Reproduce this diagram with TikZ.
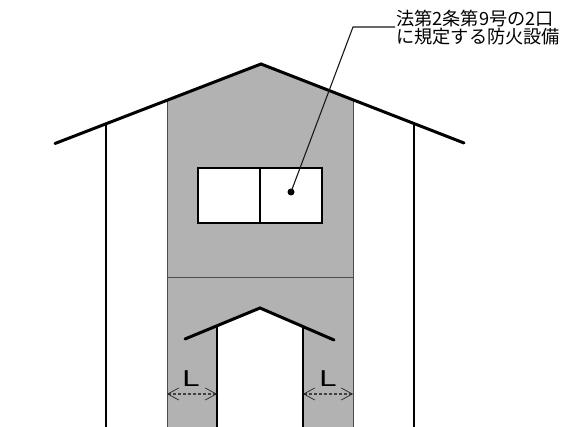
\documentclass[tikz,border=0pt]{standalone}
\usepackage{fontspec}
\newfontfamily\cjkfont{Noto Sans CJK JP}
\setmainfont{Liberation Sans}
\definecolor{wallgray}{RGB}{178,178,178}
\usetikzlibrary{arrows.meta}
\tikzset{
  roof line/.style={line width=3pt,black,line cap=round},
  wall line/.style={line width=2.6pt,black},
  thin line/.style={line width=1.3pt,black},
  frame line/.style={line width=2.2pt,black},
  edge line/.style={line width=0.9pt,black!70},
  dimline/.style={line width=1.1pt,black!75,densely dashed,{Straight Barb[length=11pt,width=12pt,line width=0.7pt,black!85]}-{Straight Barb[length=11pt,width=12pt,line width=0.7pt,black!85]}},
  dimlabel/.style={font=\fontsize{23}{23}\selectfont,inner sep=0pt,black,xscale=1.35},
  leadertext/.style={font=\cjkfont\fontsize{18.2}{18.8}\selectfont,inner sep=0pt,align=left,anchor=north west,black}
}
\begin{document}
\begin{tikzpicture}[x=1pt,y=-1pt]
\useasboundingbox (0,0) rectangle (561,427);
\fill[white] (0,0) rectangle (561,427);
% shaded wall
\fill[wallgray] (167,100) -- (261,64) -- (353,100) -- (353,427) -- (303,427) -- (303,327) -- (260,308) -- (217,327) -- (217,427) -- (167,427) -- cycle;
\draw[edge line] (167,100) -- (167,427);
\draw[edge line] (353,100) -- (353,427);
\draw[edge line] (167,277) -- (353,277);
% window
\fill[white] (198,168) rectangle (322,223);
\draw[frame line] (198,168) rectangle (322,223);
\draw[thin line] (260,168) -- (260,223);
% outer building
\draw[roof line] (55,143.5) -- (261,64) -- (464,143);
\draw[wall line] (106,125) -- (106,427);
\draw[wall line] (414,124) -- (414,427);
% door
\draw[roof line] (185,339) -- (260,308) -- (334,340);
\draw[wall line] (217,327) -- (217,427);
\draw[wall line] (303,327) -- (303,427);
% leader
\coordinate (dot) at (291,192);
\coordinate (bend) at (353,27);
\coordinate (lead) at (395,27);
\fill[black] (dot) circle (3.5pt);
\draw[line width=1.1pt,black!90] (dot) -- (bend) -- (lead);
\node[leadertext] (label) at (396,9.5) {法第2条第9号の2口\\に規定する防火設備};
% dimensions
\coordinate (a1) at (167,394);
\coordinate (a2) at (217,394);
\coordinate (b1) at (303,394);
\coordinate (b2) at (353,394);
\draw[dimline] (a1) -- (a2);
\draw[dimline] (b1) -- (b2);
\node[dimlabel] (l1) at (191,379) {L};
\node[dimlabel] (l2) at (328,379) {L};
\end{tikzpicture}
\end{document}
